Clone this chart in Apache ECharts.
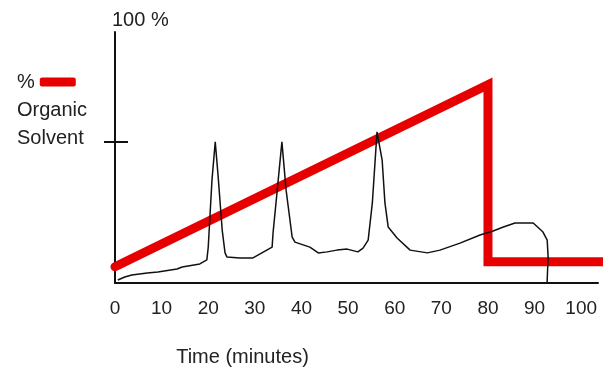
<!DOCTYPE html>
<html>
<head>
<meta charset="utf-8">
<script src="https://cdn.jsdelivr.net/npm/echarts@6/dist/echarts.min.js"></script>
<style>
    html, body { margin: 0; padding: 0; background: #fff; }
    #chromChart { width: 611px; height: 367px; }
</style>
</head>
<body>
<div id="chromChart"></div>
<script>
// 梯度洗脱: % 有机溶剂 (红线)
const gradientTime = [0, 80, 80, 105]
const gradientPct = [6.5, 79, 8.5, 8.5]

// 色谱信号 (黑线)
const signalTime = [0.6, 2.1, 3.6, 6.9, 9.2, 13.3, 14.4, 18.2, 19.7, 20.0, 20.2, 20.8, 21.5, 22.1, 23.0, 23.6, 24.0, 26.8, 29.6, 30.0,
    33.7, 33.9, 34.8, 35.8, 36.7, 38.0, 38.6, 41.8, 43.6, 45.5, 47.6, 49.8, 52.1, 53.2, 54.3, 55.2, 56.2, 57.3, 57.9, 58.6,
    60.5, 63.3, 67.0, 69.7, 74.0, 78.3, 81.1, 83.3, 85.8, 89.7, 91.8, 92.7, 92.9, 92.7, 92.7]
const signalVal = [1.2, 2.4, 3.2, 4.0, 4.4, 5.6, 6.4, 7.6, 9.2, 14.3, 21, 41, 56.2, 43, 21, 12, 10.4, 10.0, 10.0, 10.4,
    14.3, 19.9, 37, 56.2, 37, 18.3, 16.3, 14.3, 12.0, 12.4, 13.1, 13.5, 12.4, 13.9, 17.1, 31.9, 60.2, 49, 31.9, 22.3,
    17.9, 13.1, 12.0, 13.1, 15.9, 19.1, 20.7, 22.3, 23.9, 23.9, 20.3, 17.1, 10.4, 1.2, 0]

// 坐标轴刻度
const xTickStep = 10
const yTickMark = [56.3]

const zip = (a, b) => a.map((v, i) => [v, b[i]])

const chart = echarts.init(document.getElementById('chromChart'))
const fontFamily = 'Liberation Sans, Arial, sans-serif'

chart.setOption({
    animation: false,
    backgroundColor: '#fff',
    textStyle: { fontFamily: fontFamily },
    title: {
        text: 'Organic\nSolvent',
        left: 12,
        top: 91,
        textStyle: { fontSize: 20, fontWeight: 'normal', color: '#222', lineHeight: 28, fontFamily: fontFamily }
    },
    legend: {
        data: ['%'],
        left: 12,
        top: 67,
        align: 'right', // 文字在左, 图标在右
        icon: 'roundRect',
        itemWidth: 36,
        itemHeight: 9,
        textStyle: { fontSize: 20, color: '#222' }
    },
    grid: {
        left: 115,
        right: 13,
        top: 32,
        bottom: 84,
        outerBoundsMode: 'none' // 不要为轴名挤压绘图区
    },
    xAxis: {
        type: 'value',
        min: 0,
        max: 103.6,
        interval: xTickStep,
        name: 'Time (minutes)',
        nameLocation: 'middle',
        nameGap: 64,
        nameTextStyle: { fontSize: 20, color: '#222', padding: [0, 228, 0, 0] },
        axisLine: { lineStyle: { color: '#111', width: 2 } },
        axisTick: { show: false },
        splitLine: { show: false },
        axisLabel: { fontSize: 19, color: '#222', margin: 16, showMaxLabel: false }
    },
    yAxis: [{
        type: 'value',
        min: 0,
        max: 100,
        name: '100 %',
        nameLocation: 'end',
        nameGap: 2,
        nameTextStyle: { fontSize: 20, color: '#222', align: 'left', padding: [0, 0, 0, -3] },
        axisLine: { show: true, lineStyle: { color: '#111', width: 2 } },
        axisTick: { show: true, length: 11, customValues: yTickMark, lineStyle: { color: '#111', width: 2 } },
        axisLabel: { show: false },
        splitLine: { show: false }
    }, {
        // 同位置第二根轴, 只画向内的刻度
        type: 'value',
        min: 0,
        max: 100,
        position: 'left',
        axisLine: { show: false },
        axisTick: { show: true, inside: true, length: 13, customValues: yTickMark, lineStyle: { color: '#111', width: 2 } },
        axisLabel: { show: false },
        splitLine: { show: false }
    }],
    series: [{
        name: '%',
        type: 'line',
        clip: false,
        showSymbol: false,
        itemStyle: { color: '#e60000' },
        lineStyle: { color: '#e60000', width: 9, cap: 'round', join: 'miter' },
        data: zip(gradientTime, gradientPct),
        z: 2
    }, {
        name: 'signal',
        type: 'line',
        showSymbol: false,
        lineStyle: { color: '#111', width: 1.5 },
        data: zip(signalTime, signalVal),
        z: 3
    }]
})
</script>
</body>
</html>
